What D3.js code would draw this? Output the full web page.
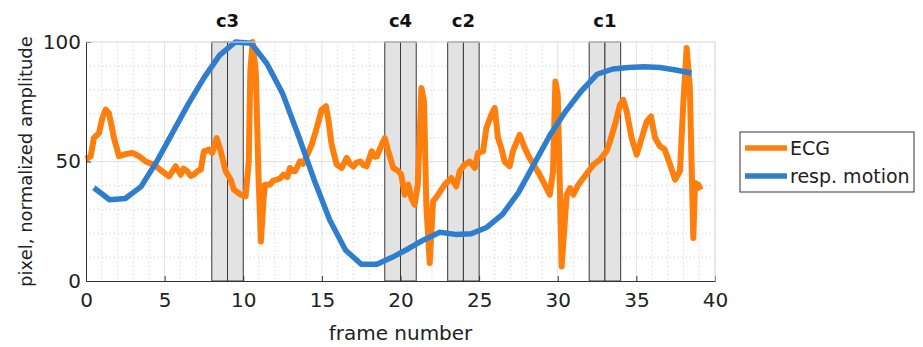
<!DOCTYPE html>
<html>
<head>
<meta charset="utf-8">
<script src="https://cdn.jsdelivr.net/npm/d3@7"></script>
<style>
  body { margin: 0; background: #fff; }
  svg { display: block; font-family: "DejaVu Sans", sans-serif; }
</style>
</head>
<body>
<svg id="chart" width="923" height="347"></svg>
<script>
// resp. motion, one value per frame (half-integer frame positions)
const respX = [0.5, 1.5, 2.5, 3.5, 4.5, 5.5, 6.5, 7.5, 8.5, 9.5, 10.5, 11.5, 12.5, 13.5, 14.5, 15.5, 16.5, 17.5, 18.5, 19.5,
  20.5, 21.5, 22.5, 23.5, 24.5, 25.5, 26.5, 27.5, 28.5, 29.5, 30.5, 31.5, 32.5, 33.5, 34.5, 35.5, 36.5, 37.5, 38.5];
const respY = [39, 34, 34.5, 39.5, 50, 62, 74, 85, 94.5, 100, 99.5, 91, 78.5, 61, 42.5, 25.5, 13, 7, 7, 10,
  13.5, 17.3, 20.4, 19.5, 19.8, 22.5, 28, 37, 49, 61, 71, 79.5, 86.5, 88.7, 89.3, 89.6, 89.3, 88.3, 87];

// ECG trace
const ecgX = [0, 0.3, 0.5, 0.83, 1.04, 1.25, 1.46, 1.78, 2.1, 2.4, 2.95, 3.37, 3.8, 4.32, 4.85, 5.28, 5.5, 5.7, 6.02, 6.2,
  6.44, 6.65, 6.86, 7.1, 7.3, 7.5, 7.82, 8.03, 8.31, 8.57, 8.88, 9.2, 9.41, 9.84, 10.15, 10.35, 10.45, 10.6, 10.8, 10.96,
  11.12, 11.3, 11.38, 11.7, 11.9, 12.13, 12.35, 12.55, 12.8, 12.97, 13.15, 13.3, 13.6, 13.8, 14.03, 14.35, 14.67, 14.99, 15.26, 15.4,
  15.62, 15.94, 16.26, 16.58, 16.8, 17.0, 17.2, 17.45, 17.65, 17.85, 18.17, 18.35, 18.5, 18.8, 19.0, 19.22, 19.54, 19.86, 20.05, 20.27,
  20.5, 20.69, 20.9, 21.1, 21.33, 21.5, 21.64, 21.86, 22.07, 22.39, 22.81, 23.23, 23.55, 23.76, 24.08, 24.4, 24.72, 24.93, 25.25, 25.46,
  25.78, 25.99, 26.2, 26.41, 26.62, 26.94, 27.15, 27.58, 27.9, 28.2, 28.53, 28.85, 29.17, 29.49, 29.7, 29.85, 30.0, 30.25, 30.57, 30.78,
  30.99, 31.31, 31.63, 31.95, 32.27, 32.69, 33.1, 33.32, 33.64, 33.96, 34.17, 34.38, 34.7, 35.02, 35.34, 35.66, 35.93, 36.19, 36.5, 36.8,
  37.14, 37.46, 37.77, 37.98, 38.2, 38.4, 38.62, 38.73, 38.94, 39.09];
const ecgY = [51, 52.2, 59.8, 62, 68.2, 71.7, 70.3, 59.8, 52.2, 52.9, 53.6, 52.2, 50, 48.7, 45.9, 43.8, 46, 48, 44.5, 47,
  45.9, 44, 44.5, 46, 46.6, 54.3, 55, 53.6, 59.8, 54.3, 45.9, 42.4, 38.2, 36.1, 35.4, 50, 88, 100, 87, 45.9,
  16.5, 35, 40.3, 40.3, 42, 42.4, 43, 44.5, 43.5, 47.3, 46, 45.9, 50, 49, 52.2, 57, 64, 71.7, 73.1, 68,
  57, 48.7, 47.3, 51.5, 49, 47.9, 49.5, 50, 48.5, 48, 54.3, 52, 52.2, 57, 59.8, 54.3, 47.3, 46, 44.5, 36.1,
  40.3, 34.7, 31.9, 40.3, 80.8, 75, 31.9, 7.5, 33.3, 36.1, 40.3, 43.1, 39.6, 45.9, 48.7, 50, 47.3, 53.6, 54.3, 64,
  69.6, 72.4, 59.8, 55.7, 50, 48, 54.3, 61.2, 55.7, 51.5, 48, 44.5, 40.3, 36.1, 45.9, 83.5, 78, 6.1, 36.1, 38.9,
  36.1, 40.3, 43.1, 45.9, 48.7, 50.8, 54.3, 58.4, 65.4, 73.8, 75.8, 71, 59.8, 52.9, 59.8, 66.8, 68.9, 59.8, 56.4, 55,
  48.7, 42.4, 45.9, 73.8, 97.5, 80.8, 18, 41, 40.3, 38.2];

// shaded frame windows (each spans two frames)
const bandStart = [8, 19, 23, 32];
const bandLabels = ["c3", "c4", "c2", "c1"];

const xTicks = [0, 5, 10, 15, 20, 25, 30, 35, 40];
const yTicks = [0, 50, 100];
const seriesNames = ["ECG", "resp. motion"];
const seriesColors = ["#ff7f0e", "#2f7ece"];

const margin = { top: 42, right: 208, bottom: 66, left: 86 };
const width = 923 - margin.left - margin.right;
const height = 347 - margin.top - margin.bottom;

const svg = d3.select('#chart');
const g = svg.append('g').attr('transform', `translate(${margin.left},${margin.top})`);

const x = d3.scaleLinear().domain([0, 40]).range([0, width]);
const y = d3.scaleLinear().domain([0, 100]).range([height, 0]);

// minor grid (dotted)
g.append('g')
  .selectAll('line')
  .data(d3.range(1, 40).filter(d => d % 5 !== 0))
  .join('line')
  .attr('x1', d => x(d)).attr('x2', d => x(d))
  .attr('y1', 0).attr('y2', height)
  .attr('stroke', '#cfcfcf').attr('stroke-dasharray', '1,3');
g.append('g')
  .selectAll('line')
  .data(d3.range(10, 100, 10).filter(d => d % 50 !== 0))
  .join('line')
  .attr('x1', 0).attr('x2', width)
  .attr('y1', d => y(d)).attr('y2', d => y(d))
  .attr('stroke', '#cfcfcf').attr('stroke-dasharray', '1,3');

// major grid
g.append('g')
  .selectAll('line')
  .data(xTicks.slice(1))
  .join('line')
  .attr('x1', d => x(d)).attr('x2', d => x(d))
  .attr('y1', 0).attr('y2', height)
  .attr('stroke', '#e2e2e2');
g.append('g')
  .selectAll('line')
  .data(yTicks.slice(1))
  .join('line')
  .attr('x1', 0).attr('x2', width)
  .attr('y1', d => y(d)).attr('y2', d => y(d))
  .attr('stroke', '#e2e2e2');

// gray windows
const bands = g.append('g');
bandStart.forEach((s, i) => {
  [s, s + 1].forEach(b => {
    bands.append('rect')
      .attr('x', x(b)).attr('y', y(100))
      .attr('width', x(b + 1) - x(b)).attr('height', y(0) - y(100))
      .attr('fill', '#e3e3e3').attr('stroke', '#3a3a3a').attr('stroke-width', 1);
  });
  svg.append('text')
    .attr('x', margin.left + x(s + 1)).attr('y', 27)
    .attr('text-anchor', 'middle')
    .attr('font-size', 18).attr('font-weight', 'bold')
    .attr('fill', '#111')
    .text(bandLabels[i]);
});

// lines
const ecgLine = d3.line().x((d, i) => x(ecgX[i])).y(d => y(d));
const respLine = d3.line().x((d, i) => x(respX[i])).y(d => y(d));

g.append('path')
  .attr('d', ecgLine(ecgY))
  .attr('fill', 'none').attr('stroke', seriesColors[0])
  .attr('stroke-width', 6).attr('stroke-linejoin', 'round');
g.append('path')
  .attr('d', respLine(respY))
  .attr('fill', 'none').attr('stroke', seriesColors[1])
  .attr('stroke-width', 5.5).attr('stroke-linejoin', 'round');

// axes
const xAxis = g.append('g')
  .attr('transform', `translate(0,${height})`)
  .call(d3.axisBottom(x).tickValues(xTicks).tickSizeInner(-5).tickSizeOuter(0).tickPadding(12));
const yAxis = g.append('g')
  .call(d3.axisLeft(y).tickValues(yTicks).tickSizeInner(-5).tickSizeOuter(0).tickPadding(5));
[xAxis, yAxis].forEach(a => {
  a.select('.domain').attr('stroke', '#333');
  a.selectAll('.tick line').attr('stroke', '#333');
  a.selectAll('.tick text').attr('font-size', 20).attr('fill', '#222').attr('font-family', '"DejaVu Sans", sans-serif');
});
// top / right edges
g.append('line').attr('x1', 0).attr('x2', width).attr('y1', 0).attr('y2', 0).attr('stroke', '#e2e2e2');
g.append('line').attr('x1', width).attr('x2', width).attr('y1', 0).attr('y2', height).attr('stroke', '#e2e2e2');

// axis labels
svg.append('text')
  .attr('x', margin.left + width / 2).attr('y', 340)
  .attr('text-anchor', 'middle').attr('font-size', 20).attr('fill', '#222')
  .text('frame number');
svg.append('text')
  .attr('transform', `translate(32,${margin.top + height / 2}) rotate(-90)`)
  .attr('text-anchor', 'middle').attr('font-size', 18).attr('fill', '#222')
  .text('pixel, normalized amplitude');

// legend
const lg = svg.append('g').attr('transform', 'translate(740,132)');
lg.append('rect').attr('width', 174).attr('height', 60)
  .attr('fill', '#fff').attr('stroke', '#333');
seriesNames.forEach((name, i) => {
  const ly = 16 + i * 28;
  lg.append('line').attr('x1', 5).attr('x2', 47).attr('y1', ly).attr('y2', ly)
    .attr('stroke', seriesColors[i]).attr('stroke-width', 5.5);
  lg.append('text').attr('x', 50).attr('y', ly + 7)
    .attr('font-size', 19).attr('fill', '#222').text(name);
});
</script>
</body>
</html>
